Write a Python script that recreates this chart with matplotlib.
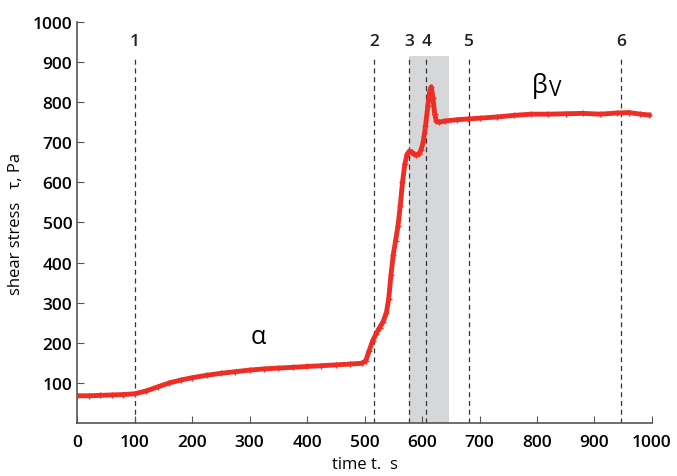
import matplotlib
matplotlib.use("Agg")
import matplotlib.pyplot as plt

plt.rcParams['font.family'] = ['Open Sans', 'DejaVu Sans']

# shear stress curve
time_s = [0, 20, 40, 60, 80, 100, 120, 140, 160, 180, 200, 225, 250, 275, 300,
          325, 350, 375, 400, 425, 450, 475, 495, 502, 508, 514, 520, 526, 532,
          538, 542, 546, 550, 554, 558, 562, 566, 570, 574, 578, 582, 586, 590,
          594, 598, 602, 606, 610, 613, 616, 619, 622, 625, 630, 640, 660, 680,
          700, 730, 760, 790, 820, 850, 880, 910, 940, 960, 980, 995]
stress = [68, 68, 69, 70, 71, 73, 80, 90, 100, 107, 113, 119, 124, 128, 132,
          135, 137, 139, 141, 143, 145, 147, 149, 155, 180, 205, 222, 238, 252,
          275, 310, 370, 420, 455, 490, 540, 600, 645, 670, 678, 676, 670, 668,
          670, 680, 700, 740, 790, 825, 838, 810, 770, 752, 750, 753, 756, 758,
          760, 763, 767, 770, 770, 771, 772, 770, 773, 774, 770, 768]

marker_t = [100, 516, 577, 607, 682, 946]
marker_lbl = ['1', '2', '3', '4', '5', '6']
span_t = (577, 647)

fig = plt.figure(figsize=(6.77, 4.77), dpi=100)
ax = fig.add_axes([0.114, 0.111, 0.849, 0.841])

ax.axvspan(span_t[0], span_t[1], ymax=0.915, color='#d6d7d9', lw=0, zorder=0)
for t, lb in zip(marker_t, marker_lbl):
    ax.axvline(t, ymax=0.915, color='#333333', ls=(0, (4, 3)), lw=0.9, zorder=1)
    ax.text(t, 952, lb, ha='center', va='center', fontsize=12.5,
            fontweight='semibold', color='#222222')

ax.plot(time_s, stress, color='#ee2d24', lw=3.5, marker='+', ms=4, mew=1,
        zorder=3)

ax.text(315, 215, '\u03b1', fontsize=18, ha='center', va='center')
ax.text(804, 842, '\u03b2', fontsize=18, ha='center', va='center')
ax.text(831, 832, 'V', fontsize=15, ha='center', va='center')

ax.set_xlim(0, 1000)
ax.set_ylim(0, 1000)
ax.set_xticks(range(0, 1001, 100))
ax.set_yticks(range(100, 1001, 100))
ax.tick_params(direction='in', length=5, color='#555555', labelsize=12.5)
ax.tick_params(axis='x', pad=8)
for lab in ax.get_xticklabels() + ax.get_yticklabels():
    lab.set_fontweight('semibold')
for s in ('top', 'right'):
    ax.spines[s].set_visible(False)
for s in ('left', 'bottom'):
    ax.spines[s].set_color('#555555')
    ax.spines[s].set_linewidth(1.2)

ax.set_xlabel('time t.  s', fontsize=12)
ax.set_ylabel('shear stress   \u03c4, Pa', fontsize=12, labelpad=6)

fig.savefig('out.png', dpi=100)
